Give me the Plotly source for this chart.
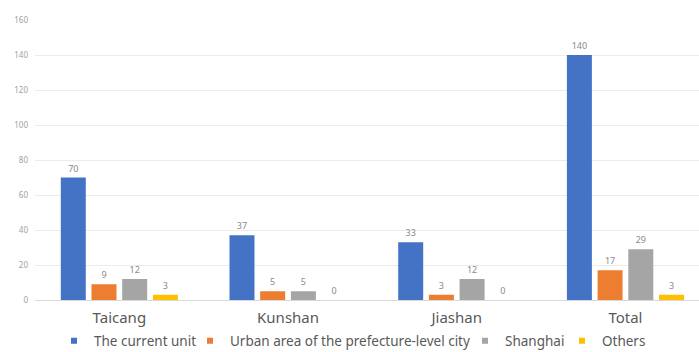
import plotly.graph_objects as go

categories = ["Taicang", "Kunshan", "Jiashan", "Total"]
series_names = ["The current unit", "Urban area of the prefecture-level city", "Shanghai", "Others"]
current_unit = [70, 37, 33, 140]
urban_area = [9, 5, 3, 17]
shanghai = [12, 5, 12, 29]
others = [3, 0, 0, 3]
colors = ["#4472C4", "#ED7D31", "#A5A5A5", "#FFC000"]
y_ticks = [0, 20, 40, 60, 80, 100, 120, 140, 160]

legend_ids = ["legend", "legend2", "legend3", "legend4"]
legend_x = [54, 190, 465, 562]  # left edge of each legend item, px

fig = go.Figure()
for name, vals, col in zip(series_names, [current_unit, urban_area, shanghai, others], colors):
    fig.add_trace(go.Bar(
        x=categories, y=vals, name=name, marker_color=col, marker_line_width=0,
        text=[str(v) for v in vals], textposition="outside", cliponaxis=False,
        textfont=dict(size=9, color="#8a8a8a"), showlegend=False,
    ))
for name, col, lid in zip(series_names, colors, legend_ids):
    fig.add_trace(go.Scatter(
        x=[None], y=[None], mode="markers", name=name, legend=lid,
        marker=dict(symbol="square", size=6, color=col), showlegend=True,
    ))

W, H = 699, 352
legend_layout = {}
for lid, lx in zip(legend_ids, legend_x):
    legend_layout[lid] = dict(
        orientation="h", xref="container", yref="container",
        x=lx / W, xanchor="left", y=1 - 341 / H, yanchor="middle",
        font=dict(size=13.5, color="#595959"), itemwidth=30,
        bgcolor="rgba(0,0,0,0)", borderwidth=0,
    )

fig.update_layout(
    width=W, height=H,
    margin=dict(l=35, r=0, t=20, b=52, autoexpand=False),
    paper_bgcolor="white", plot_bgcolor="white",
    font=dict(family="Noto Sans, sans-serif", color="#595959"),
    barmode="group", bargap=0.272, bargroupgap=0.186,
    xaxis=dict(range=[-0.5, 3.436], showgrid=False, tickfont=dict(size=15, color="#595959"),
               showline=True, linecolor="#d9d9d9", linewidth=1, ticks="", ticklabelstandoff=4,
               automargin=False),
    yaxis=dict(range=[0, 160], tickvals=y_ticks, showgrid=True, gridcolor="#ebebeb", gridwidth=1,
               tickfont=dict(size=8, color="#a0a0a0"), zeroline=False, ticks="", ticklabelstandoff=6,
               automargin=False),
    **legend_layout,
)

fig.write_html("out.html")
